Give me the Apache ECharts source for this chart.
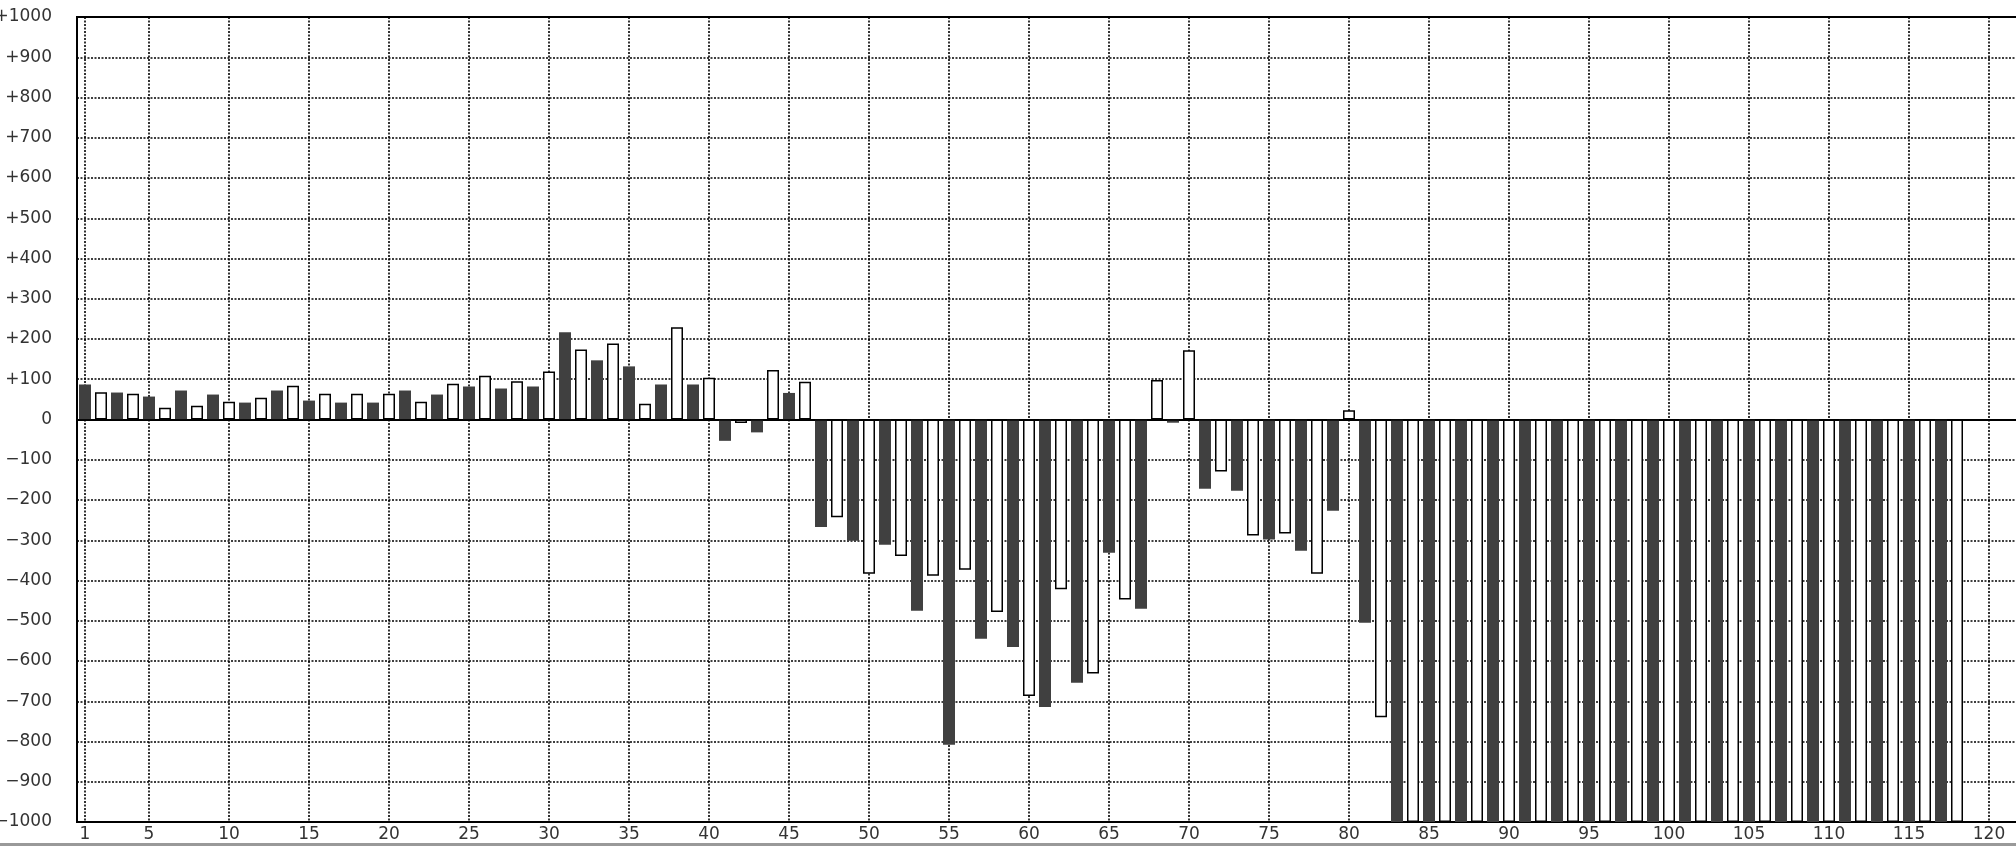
<!DOCTYPE html>
<html>
<head>
<meta charset="utf-8">
<script src="https://cdn.jsdelivr.net/npm/echarts@6/dist/echarts.min.js"></script>
<style>
  html, body { margin: 0; padding: 0; background: #fff; }
  #main { width: 2016px; height: 846px; }
</style>
</head>
<body>
<div id="main"></div>
<script>
// categories on the x axis (1..122, the last few are empty)
var categories = [
  '1','2','3','4','5','6','7','8','9','10','11','12','13','14','15','16','17','18','19','20',
  '21','22','23','24','25','26','27','28','29','30','31','32','33','34','35','36','37','38','39','40',
  '41','42','43','44','45','46','47','48','49','50','51','52','53','54','55','56','57','58','59','60',
  '61','62','63','64','65','66','67','68','69','70','71','72','73','74','75','76','77','78','79','80',
  '81','82','83','84','85','86','87','88','89','90','91','92','93','94','95','96','97','98','99','100',
  '101','102','103','104','105','106','107','108','109','110','111','112','113','114','115','116','117','118','119','120',
  '121','122'
]

// labels shown under the x axis (also where the vertical grid lines are)
var xTickLabels = ['1','5','10','15','20','25','30','35','40','45','50','55','60',
  '65','70','75','80','85','90','95','100','105','110','115','120']

// bar values (odd bars dark, even bars white)
var values = [
  87, 68, 67, 64, 57, 29, 72, 34, 62, 44,
  42, 54, 72, 84, 47, 64, 42, 64, 42, 64,
  72, 44, 62, 89, 82, 109, 77, 95, 82, 119,
  217, 174, 147, 189, 132, 39, 87, 229, 87, 104,
  -53, -9, -32, 123, 66, 94, -267, -243, -301, -383,
  -311, -339, -475, -388, -808, -373, -545, -478, -565, -687,
  -714, -422, -654, -631, -331, -447, -470, 98, -8, 172,
  -172, -129, -177, -288, -298, -283, -326, -383, -227, 23,
  -505, -740, -1000, -1000, -1000, -1000, -1000, -1000, -1000, -1000,
  -1000, -1000, -1000, -1000, -1000, -1000, -1000, -1000, -1000, -1000,
  -1000, -1000, -1000, -1000, -1000, -1000, -1000, -1000, -1000, -1000,
  -1000, -1000, -1000, -1000, -1000, -1000, -1000, -1000
]

var darkStyle = { color: '#404040', borderWidth: 0 }
var whiteStyle = { color: '#ffffff', borderColor: '#000000', borderWidth: 1.5 }

var seriesData = values.map(function (v, i) {
  return { value: v, itemStyle: i % 2 === 0 ? darkStyle : whiteStyle }
})

function showTick(index, value) {
  return xTickLabels.indexOf(String(value)) >= 0
}

var gridLine = {
  color: '#000',
  width: 1.6,
  type: [2, 1.5]
}

var chart = echarts.init(document.getElementById('main'))
chart.setOption({
  animation: false,
  backgroundColor: '#fff',
  textStyle: { fontFamily: 'DejaVu Sans' },
  grid: {
    left: 77,
    right: -13,
    top: 17,
    bottom: 24,
    outerBoundsMode: 'none',
    containLabel: false,
    show: true,
    borderColor: '#000',
    borderWidth: 2
  },
  xAxis: {
    type: 'category',
    data: categories,
    boundaryGap: true,
    axisLine: { lineStyle: { color: '#000', width: 2 } },
    axisTick: { show: false },
    axisLabel: {
      interval: showTick,
      color: '#333',
      fontSize: 17,
      fontFamily: 'DejaVu Sans',
      margin: 4
    },
    splitLine: {
      show: true,
      interval: showTick,
      alignWithLabel: true,
      lineStyle: gridLine
    }
  },
  yAxis: {
    type: 'value',
    min: -1000,
    max: 1000,
    interval: 100,
    axisLine: { show: true, lineStyle: { color: '#000', width: 2 } },
    axisTick: { show: false },
    axisLabel: {
      color: '#333',
      fontSize: 17,
      fontFamily: 'DejaVu Sans',
      margin: 25,
      formatter: function (v) {
        if (v > 0) return '+' + v
        if (v < 0) return '\u2212' + (-v)
        return '0'
      }
    },
    splitLine: { show: true, lineStyle: gridLine }
  },
  graphic: [{
    type: 'rect',
    left: 0,
    bottom: 0,
    shape: { width: 2016, height: 3 },
    style: { fill: '#999' },
    silent: true
  }],
  series: [{
    type: 'bar',
    barWidth: 12,
    data: seriesData,
    markLine: {
      silent: true,
      symbol: 'none',
      label: { show: false },
      lineStyle: { color: '#000', width: 1.5, type: 'solid' },
      data: [{ yAxis: 0 }]
    }
  }]
})
</script>
</body>
</html>
